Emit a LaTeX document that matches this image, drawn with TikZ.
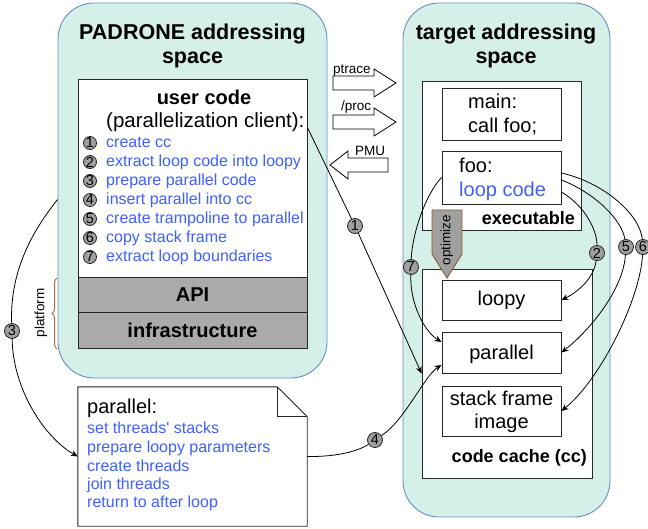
\documentclass[tikz,border=0pt]{standalone}
\usepackage{fontspec}
\setmainfont{Liberation Sans}
\usetikzlibrary{fit,calc,arrows.meta,decorations.pathreplacing}
\definecolor{spacefill}{RGB}{213,239,233}
\definecolor{spaceline}{RGB}{108,142,191}
\definecolor{txtblue}{RGB}{64,96,255}
\definecolor{layergray}{RGB}{170,170,170}
\definecolor{numgray}{RGB}{160,160,160}
\definecolor{optgray}{RGB}{160,160,160}
\definecolor{optline}{RGB}{140,90,50}
\definecolor{bracecol}{RGB}{170,110,55}
\newcommand\myfs[1]{\fontsize{#1}{#1}\selectfont}
\begin{document}
\begin{tikzpicture}[x=1pt,y=-1pt,
  space/.style={draw=spaceline, fill=spacefill, line width=0.9pt, rounded corners=36pt, inner sep=0pt},
  box/.style={draw=black!85, fill=white, line width=0.9pt, inner sep=0pt},
  layerbox/.style={draw=black!85, fill=layergray, line width=0.9pt, inner sep=0pt},
  layertxt/.style={font=\bfseries\myfs{20}, inner sep=0pt},
  spacetitle/.style={font=\bfseries\myfs{21.5}, inner sep=0pt, anchor=base},
  txt/.style={font=\myfs{20}, inner sep=0pt},
  item/.style={font=\myfs{16}, text=txtblue, inner sep=0pt, anchor=base west},
  lnum/.style={circle, draw=black!85, fill=numgray, line width=0.8pt, minimum size=13pt, inner sep=0pt, font=\myfs{14.5}},
  num/.style={circle, draw=black!85, fill=numgray, line width=0.8pt, minimum size=15pt, inner sep=0pt, font=\myfs{14.5}},
  lbl/.style={font=\myfs{13.5}, inner sep=0pt},
  conn/.style={line width=0.8pt, draw=black},
  arr/.style={conn, -{Stealth[length=7pt,width=6pt]}},
  blockarrow/.style={draw=black, fill=white, line width=0.8pt, line join=miter}
]
\useasboundingbox (0,0) rectangle (648,529);

% address spaces
\node[space, fit={(58,3) (327,378)}] (padrone) {};
\node[space, fit={(403,3) (610,517)}] (target) {};

% left side
\node[box, fit={(78,79) (307,277)}] (uc) {};
\node[layerbox, fit={(78,277) (307,312)}] (api) {};
\node[layerbox, fit={(78,312) (307,348)}] (infra) {};
\node[layertxt] (apit) at (api.center) {API};
\node[layertxt] (infrat) at (infra.center) {infrastructure};

\node[fit={(78,387) (307,526)}, inner sep=0pt] (note) {};
\draw[box] (note.north west) -- ([xshift=-30pt]note.north east) -- ([yshift=-30pt]note.north east)
  -- (note.south east) -- (note.south west) -- cycle;
\draw[box, fill=none] ([xshift=-30pt]note.north east) -- ([xshift=-30pt,yshift=-30pt]note.north east)
  -- ([yshift=-30pt]note.north east);

% right side
\node[box, fit={(422,81) (581,230)}] (exe) {};
\node[box, fit={(442,88) (561,140)}] (main) {};
\node[box, fit={(442,151) (561,204)}] (foo) {};
\node[box, fit={(422,269) (592,478)}] (cc) {};
\node[box, fit={(442,280) (561,320)}] (loopy) {};
\node[box, fit={(442,332) (561,373)}] (par) {};
\node[box, fit={(442,386) (561,436)}] (stack) {};
\node[txt, anchor=base] (loopyt) at (501.5,306) {loopy};
\node[txt, anchor=base] (part) at (501.5,359.5) {parallel};

% optimize arrow
\draw[fill=optgray, draw=optline, line width=0.9pt, line join=miter] (432,210) -- (462,210) -- (462,254) -- (447,278) -- (432,254) -- cycle;
\node[lbl, rotate=90] (opt) at (447,240) {optimize};

% block arrows
\draw[blockarrow] (333,76) -- (374,76) -- (374,69) -- (396,83) -- (374,97) -- (374,90) -- (333,90) -- cycle;
\draw[blockarrow] (333,115) -- (374,115) -- (374,108) -- (396,122) -- (374,136) -- (374,129) -- (333,129) -- cycle;
\draw[blockarrow] (388,158) -- (348,158) -- (348,151) -- (330,165) -- (348,179) -- (348,172) -- (388,172) -- cycle;
\node[lbl, anchor=base west] (lptrace) at (333,74) {ptrace};
\node[lbl, anchor=base west] (lproc) at (341,111) {/proc};
\node[lbl, anchor=base west] (lpmu) at (355,156) {PMU};

% platform brace
\draw[bracecol, line width=1pt, decorate, decoration={brace, amplitude=5pt}] (57,349) -- (57,278);
\node[lbl, rotate=90] (plat) at (41,313) {platform};

% titles
\node[spacetitle] (pt1) at (192.5,40) {PADRONE addressing};
\node[spacetitle] (pt2) at (192.5,64) {space};
\node[spacetitle] (tt1) at (506,40) {target addressing};
\node[spacetitle] (tt2) at (506,64) {space};

% user code text
\node[font=\bfseries\myfs{20}, inner sep=0pt, anchor=base] (uct) at (204,105) {user code};
\node[font=\myfs{20.5}, inner sep=0pt, anchor=base west] (ucs) at (106,128) {(parallelization client):};
\node[lnum] (n1) at (90,143) {1};
\node[lnum] (n2) at (90,162) {2};
\node[lnum] (n3) at (90,181) {3};
\node[lnum] (n4) at (90,200) {4};
\node[lnum] (n5) at (90,219) {5};
\node[lnum] (n6) at (90,238) {6};
\node[lnum] (n7) at (90,257) {7};
\node[item] (i1) at (106,148) {create cc};
\node[item] (i2) at (106,167) {extract loop code into loopy};
\node[item] (i3) at (106,186) {prepare parallel code};
\node[item] (i4) at (106,205) {insert parallel into cc};
\node[item] (i5) at (106,224) {create trampoline to parallel};
\node[item] (i6) at (106,243) {copy stack frame};
\node[item] (i7) at (106,262) {extract loop boundaries};

% note text
\node[txt, anchor=base west] (nt) at (87,413) {parallel:};
\node[item] (p1) at (87,433) {set threads\textquotesingle{} stacks};
\node[item] (p2) at (87,452) {prepare loopy parameters};
\node[item] (p3) at (87,471) {create threads};
\node[item] (p4) at (87,489) {join threads};
\node[item] (p5) at (87,507) {return to after loop};

% right texts
\node[txt, anchor=base west] (mt1) at (468,109) {main:};
\node[txt, anchor=base west] (mt2) at (468,133) {call foo;};
\node[txt, anchor=base west] (ft1) at (459,173) {foo:};
\node[txt, anchor=base west, text=txtblue] (ft2) at (459,197) {loop code};
\node[font=\bfseries\myfs{18}, inner sep=0pt, anchor=base east] (exet) at (575,225) {executable};
\node[txt, anchor=base] (st1) at (501.5,405) {stack frame};
\node[txt, anchor=base] (st2) at (501.5,428) {image};
\node[font=\bfseries\myfs{18}, inner sep=0pt, anchor=base east] (cct) at (587,462) {code cache (cc)};

% step markers on connectors
\node[num] (c1) at (355,226) {1};
\node[num] (c2) at (597,253) {2};
\node[num] (c3) at (12,331) {3};
\node[num] (c4) at (375,440) {4};
\node[num] (c5) at (626,247) {5};
\node[num] (c6) at (643,247) {6};
\node[num] (c7) at (411,267) {7};

% connectors
\draw[arr] ([yshift=-49pt]uc.north east) -- (c1) -- (cc.west);
\draw[arr] ([yshift=-197pt]padrone.north west) .. controls (25,240) and (10,280) .. (c3)
  .. controls (13,390) and (45,438) .. (note.west);
\draw[arr] (note.east) .. controls (340,457) and (360,450) .. (c4)
  .. controls (405,420) and (425,375) .. ([yshift=-12.5pt]par.west);
\draw[arr] (foo.west) .. controls (425,195) and (412,235) .. (c7)
  .. controls (410,305) and (425,332) .. ([yshift=10.5pt]par.west);
\draw[arr] ([yshift=-14.5pt]foo.east) .. controls (585,206) and (597,230) .. (c2)
  .. controls (594,278) and (578,292) .. (loopy.east);
\draw[arr] ([yshift=-2.5pt]foo.east) .. controls (595,193) and (622,220) .. (c5)
  .. controls (623,290) and (590,330) .. (par.east);
\draw[arr] ([yshift=4.5pt]foo.east) .. controls (605,183) and (640,215) .. (c6)
  .. controls (640,300) and (600,380) .. (stack.east);
\end{tikzpicture}
\end{document}
